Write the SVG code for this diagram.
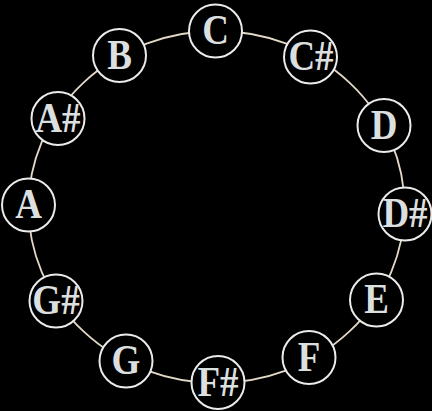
<svg xmlns="http://www.w3.org/2000/svg" width="432" height="411" viewBox="0 0 432 411">
<style>
.ring{fill:none;stroke:#e3d9c6;stroke-width:1.8}
.node circle{fill:#000;stroke:#ebebeb;stroke-width:2}
.node text{font-family:"Liberation Serif","Times New Roman",serif;font-weight:bold;font-size:37px;fill:#dcdfdf;text-anchor:middle}
</style>
<rect width="432" height="411" fill="#000"/>
<g id="connectors">
<ellipse class="ring" cx="216.5" cy="207" rx="188" ry="176"/>
</g>
<g id="node-C" class="node"><circle cx="215.5" cy="31" r="26.5"/><text transform="translate(215.5 44) scale(1 1.14)">C</text></g>
<g id="node-Cs" class="node"><circle cx="310.5" cy="57" r="26.5"/><text transform="translate(311 70) scale(1 1.14)">C#</text></g>
<g id="node-D" class="node"><circle cx="384" cy="125.5" r="26.5"/><text transform="translate(384 138.5) scale(1 1.14)">D</text></g>
<g id="node-Ds" class="node"><circle cx="405" cy="214" r="26.5"/><text transform="translate(405 227) scale(1 1.14)">D#</text></g>
<g id="node-E" class="node"><circle cx="376.5" cy="300" r="26.5"/><text transform="translate(376.5 313) scale(1 1.14)">E</text></g>
<g id="node-F" class="node"><circle cx="309" cy="357.5" r="26.5"/><text transform="translate(309 370.5) scale(1 1.14)">F</text></g>
<g id="node-Fs" class="node"><circle cx="218" cy="382.5" r="26.5"/><text transform="translate(218 395.5) scale(1 1.14)">F#</text></g>
<g id="node-G" class="node"><circle cx="126" cy="361" r="26.5"/><text transform="translate(126 374) scale(1 1.14)">G</text></g>
<g id="node-Gs" class="node"><circle cx="56" cy="301" r="26.5"/><text transform="translate(56 314) scale(1 1.14)">G#</text></g>
<g id="node-A" class="node"><circle cx="28.5" cy="205" r="26.5"/><text transform="translate(28.5 218) scale(1 1.14)">A</text></g>
<g id="node-As" class="node"><circle cx="58" cy="118.5" r="26.5"/><text transform="translate(58 131.5) scale(1 1.14)">A#</text></g>
<g id="node-B" class="node"><circle cx="119.5" cy="55.5" r="26.5"/><text transform="translate(119.5 68.5) scale(1 1.14)">B</text></g>
</svg>
